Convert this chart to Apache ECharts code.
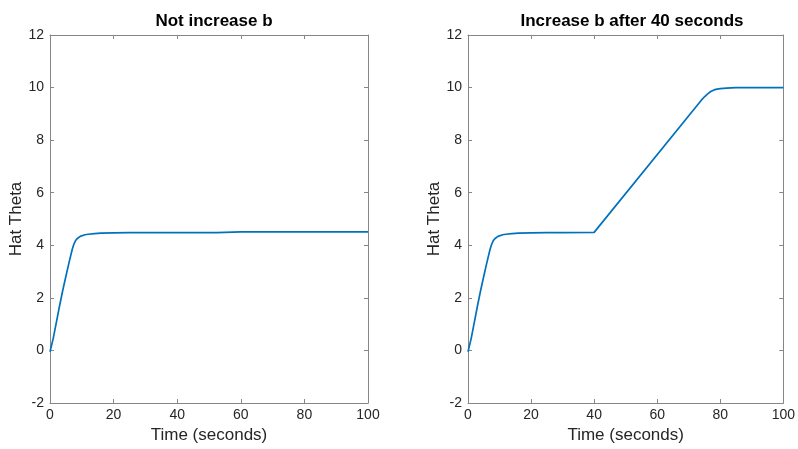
<!DOCTYPE html>
<html>
<head>
<meta charset="utf-8">
<script src="https://cdn.jsdelivr.net/npm/echarts@6/dist/echarts.min.js"></script>
<style>
  html, body { margin: 0; padding: 0; background: #fff; }
  #chart { width: 798px; height: 449px; }
</style>
</head>
<body>
<div id="chart"></div>
<script>
// Panel titles and axis labels
const panelTitles = ['Not increase b', 'Increase b after 40 seconds'];
const xAxisName = 'Time (seconds)';
const yAxisName = 'Hat Theta';

// Estimate trajectory, b held constant
const timeConst = [0, 0.3, 1, 2, 3, 4, 5, 6, 7, 7.5, 8, 8.5, 9, 9.5, 10, 11, 12, 14, 16, 20, 25, 30, 40, 52.5, 53, 60, 70, 80, 90, 100];
const thetaConst = [-0.05, -0.12, 0.45, 1.07, 1.69, 2.28, 2.82, 3.35, 3.85, 4.04, 4.17, 4.25, 4.3, 4.34, 4.37, 4.4, 4.42, 4.44, 4.46, 4.47, 4.48, 4.48, 4.48, 4.48, 4.51, 4.51, 4.51, 4.51, 4.51, 4.51];

// Estimate trajectory, b increased from t = 40 s
const timeIncr = [0, 0.3, 1, 2, 3, 4, 5, 6, 7, 7.5, 8, 8.5, 9, 9.5, 10, 11, 12, 14, 16, 20, 25, 30, 40, 74, 75, 76, 77, 78, 79, 80, 82, 85, 90, 100];
const thetaIncr = [-0.05, -0.12, 0.45, 1.07, 1.69, 2.28, 2.82, 3.35, 3.85, 4.04, 4.17, 4.25, 4.3, 4.34, 4.37, 4.4, 4.42, 4.44, 4.46, 4.47, 4.48, 4.48, 4.49, 9.52, 9.65, 9.76, 9.85, 9.91, 9.94, 9.96, 9.98, 10.0, 10.0, 10.0];

const pairs = (xs, ys) => xs.map((x, i) => [x, ys[i]]);

const textColor = '#262626';
const axisColor = '#868686';
const lineColor = '#0072BD';
const fontFamily = 'Arial, "Liberation Sans", Helvetica, sans-serif';

const grids = [
  { left: 50, right: 430, top: 35, bottom: 44, show: false },
  { left: 468, right: 12, top: 35, bottom: 44, show: false }
];

function mainX(gi) {
  return {
    type: 'value', gridIndex: gi, min: 0, max: 100, interval: 20,
    name: xAxisName, nameLocation: 'middle', nameGap: 24,
    nameTextStyle: { fontSize: 17, color: textColor, fontFamily },
    axisLine: { show: true, onZero: false, lineStyle: { color: axisColor, width: 1 } },
    axisTick: { show: true, inside: true, length: 4, lineStyle: { color: axisColor } },
    axisLabel: { fontSize: 14, color: textColor, fontFamily, margin: 5 },
    splitLine: { show: false }
  };
}
function mirrorX(gi) {
  return {
    type: 'value', gridIndex: gi, position: 'top', min: 0, max: 100, interval: 20,
    axisLine: { show: true, onZero: false, lineStyle: { color: axisColor, width: 1 } },
    axisTick: { show: true, inside: true, length: 4, lineStyle: { color: axisColor } },
    axisLabel: { show: false }, splitLine: { show: false }
  };
}
function mainY(gi) {
  return {
    type: 'value', gridIndex: gi, min: -2, max: 12, interval: 2,
    name: yAxisName, nameLocation: 'middle', nameGap: 20,
    nameTextStyle: { fontSize: 17, color: textColor, fontFamily },
    axisLine: { show: true, onZero: false, lineStyle: { color: axisColor, width: 1 } },
    axisTick: { show: true, inside: true, length: 4, lineStyle: { color: axisColor } },
    axisLabel: { fontSize: 14, color: textColor, fontFamily, margin: 6 },
    splitLine: { show: false }
  };
}
function mirrorY(gi) {
  return {
    type: 'value', gridIndex: gi, position: 'right', min: -2, max: 12, interval: 2,
    axisLine: { show: true, onZero: false, lineStyle: { color: axisColor, width: 1 } },
    axisTick: { show: true, inside: true, length: 4, lineStyle: { color: axisColor } },
    axisLabel: { show: false }, splitLine: { show: false }
  };
}

const chart = echarts.init(document.getElementById('chart'), null, { renderer: 'canvas' });
chart.setOption({
  animation: false,
  backgroundColor: '#ffffff',
  title: [
    { text: panelTitles[0], left: 209, top: 8, textAlign: 'center',
      textStyle: { fontSize: 17, fontWeight: 'bold', color: '#000', fontFamily } },
    { text: panelTitles[1], left: 627, top: 8, textAlign: 'center',
      textStyle: { fontSize: 17, fontWeight: 'bold', color: '#000', fontFamily } }
  ],
  grid: grids,
  xAxis: [mainX(0), mirrorX(0), mainX(1), mirrorX(1)],
  yAxis: [mainY(0), mirrorY(0), mainY(1), mirrorY(1)],
  series: [
    { type: 'line', xAxisIndex: 0, yAxisIndex: 0, data: pairs(timeConst, thetaConst),
      showSymbol: false, lineStyle: { color: lineColor, width: 1.7 } },
    { type: 'line', xAxisIndex: 2, yAxisIndex: 2, data: pairs(timeIncr, thetaIncr),
      showSymbol: false, lineStyle: { color: lineColor, width: 1.7 } }
  ]
});
</script>
</body>
</html>
